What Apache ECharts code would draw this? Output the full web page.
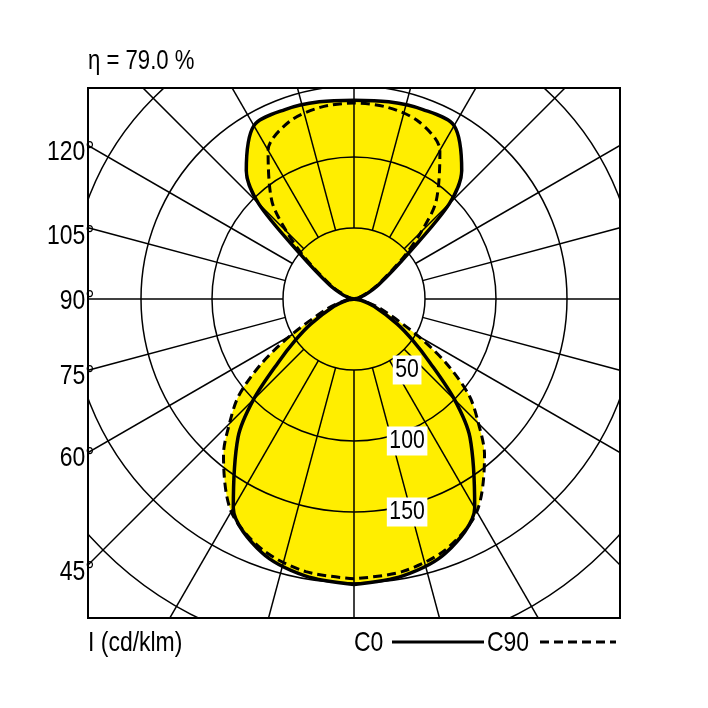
<!DOCTYPE html>
<html><head><meta charset="utf-8">
<script src="https://cdn.jsdelivr.net/npm/echarts@6/dist/echarts.min.js"></script>
<style>html,body{margin:0;padding:0;background:#fff}#c{width:708px;height:708px}</style>
</head><body><div id="c"></div>
<script>
const angles = [0,10,20,30,40,45,50,55,60,70,80,90,100,110,120,130,135,140,150,160,170,180];
const c0  = [201,198,190,170,127,100,70,50,35,15,5,0,2,8,20,50,95,118,141,142,141,140];
const c90 = [197,195,188,173,143,124,106,80,52,20,6,0,2,6,18,45,67,90,121,133,137,138];
const ringLabels = [50,100,150];
const sideLabels = ['120°','105°','90°','75°','60°','45°'];
const sideY = [152,236,301,376,458,572];
function full(v){const a=[];angles.forEach((t,i)=>a.push([v[i],t]));for(let i=angles.length-2;i>=0;i--)a.push([v[i],360-angles[i]]);return a;}
const F="'Liberation Sans','DejaVu Sans',sans-serif";
const ch=echarts.init(document.getElementById('c'));
function txt(t,x,y,size,align,extra){return Object.assign({type:'text',x:x,y:y,scaleX:0.82,style:{text:t,font:size+'px '+F,fill:'#000',textAlign:align,textVerticalAlign:'middle'},z:12},extra||{});}
const g=[
 {type:'rect',shape:{x:0,y:0,width:708,height:88},style:{fill:'#fff'},z:10},
 {type:'rect',shape:{x:0,y:618,width:708,height:90},style:{fill:'#fff'},z:10},
 {type:'rect',shape:{x:0,y:0,width:88,height:708},style:{fill:'#fff'},z:10},
 {type:'rect',shape:{x:620,y:0,width:88,height:708},style:{fill:'#fff'},z:10},
 {type:'rect',shape:{x:88,y:88,width:532,height:530},style:{fill:'none',stroke:'#000',lineWidth:2},z:11},
 txt('η = 79.0 %',88,62,27,'left'),
 txt('I (cd/klm)',88,643,28,'left'),
 txt('C0',354,643,28,'left'),
 {type:'line',shape:{x1:392,y1:642,x2:484,y2:642},style:{stroke:'#000',lineWidth:3},z:12},
 txt('C90',487,643,28,'left'),
 {type:'line',shape:{x1:540,y1:642,x2:616,y2:642},style:{stroke:'#000',lineWidth:3,lineDash:[9,5]},z:12}
];
for(let a=0;a<360;a+=15){
 const r=a*Math.PI/180, s=Math.sin(r), c=Math.cos(r);
 g.push({type:'line',shape:{x1:354+71*s,y1:299+71*c,x2:354+600*s,y2:299+600*c},style:{stroke:'#000',lineWidth:1.5},z:3});
}
sideLabels.forEach((t,i)=>{
 g.push(txt(t,80,sideY[i],28,'right',{originX:80}));
 g.push(txt(t,630,sideY[i],28,'left',{originX:630}));
});
ringLabels.forEach(v=>{
 g.push({type:'text',x:354,y:299+v*71/50,originX:354,scaleX:0.85,style:{text:String(v),font:'25px '+F,fill:'#000',textAlign:'center',textVerticalAlign:'middle',backgroundColor:'#fff',padding:[2,3]},z:9});
});
ch.setOption({
 animation:false,
 polar:{center:[354,299],radius:426},
 angleAxis:{type:'value',min:0,max:360,interval:15,startAngle:-90,clockwise:true,z:3,
  axisLine:{show:false},axisTick:{show:false},axisLabel:{show:false},splitLine:{show:false}},
 radiusAxis:{type:'value',min:0,max:300,interval:50,z:3,
  axisLine:{show:false},axisTick:{show:false},axisLabel:{show:false},
  splitLine:{lineStyle:{color:'#000',width:1.5}}},
 graphic:g,
 series:[
  {type:'line',coordinateSystem:'polar',data:full(c90),smooth:0.3,symbol:'none',z:1,lineStyle:{width:0},areaStyle:{color:'#ffee00',opacity:1}},
  {type:'line',coordinateSystem:'polar',data:full(c0),smooth:0.3,symbol:'none',z:1,lineStyle:{width:0},areaStyle:{color:'#ffee00',opacity:1}},
  {type:'line',coordinateSystem:'polar',data:full(c90),smooth:0.3,symbol:'none',z:5,lineStyle:{width:3,color:'#000',type:[9,5]}},
  {type:'line',coordinateSystem:'polar',data:full(c0),smooth:0.3,symbol:'none',z:5,lineStyle:{width:3.5,color:'#000'}}
 ]
});
</script></body></html>
